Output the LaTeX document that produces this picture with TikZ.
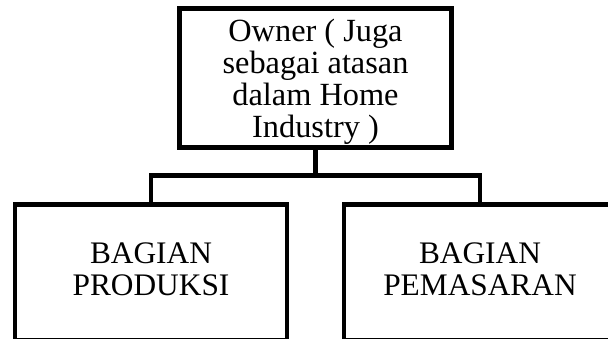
\documentclass[tikz,border=0pt]{standalone}
\usepackage{fontspec}
\setmainfont{Liberation Serif}
\usepackage{tikz}
\usetikzlibrary{positioning}

\begin{document}
\begin{tikzpicture}[
  x=0.025cm, y=-0.025cm,
  box/.style={draw, line width=3.5pt, minimum width=6.8cm, minimum height=3.375cm, inner sep=0pt},
  conn/.style={line width=3.5pt}
]
  \clip (0,0) rectangle (608,338);
  \useasboundingbox (0,0) rectangle (608,338);

  \node[box, font=\fontsize{23}{22.8}\selectfont, text height=23.6pt, text depth=75.24pt] (owner) at (315.5, 78)
    {\begin{tabular}[t]{@{}c@{}}Owner ( Juga\\sebagai atasan\\dalam Home\\Industry )\end{tabular}};
  \node[box, minimum height=3.4cm, font=\fontsize{22.3}{22.8}\selectfont, text height=16.6pt, text depth=29.64pt] (produksi) at (151, 272.5)
    {\begin{tabular}[t]{@{}c@{}}BAGIAN\\PRODUKSI\end{tabular}};
  \node[box, minimum height=3.4cm, font=\fontsize{22.3}{22.8}\selectfont, text height=16.6pt, text depth=29.64pt] (pemasaran) at (480, 272.5)
    {\begin{tabular}[t]{@{}c@{}}BAGIAN\\PEMASARAN\end{tabular}};

  % connectors
  \coordinate (bar) at (315.5, 175.5);
  \draw[conn] (owner.south) -- (bar);
  \draw[conn] (bar) -| (produksi.north);
  \draw[conn] (bar) -| (pemasaran.north);
\end{tikzpicture}
\end{document}
